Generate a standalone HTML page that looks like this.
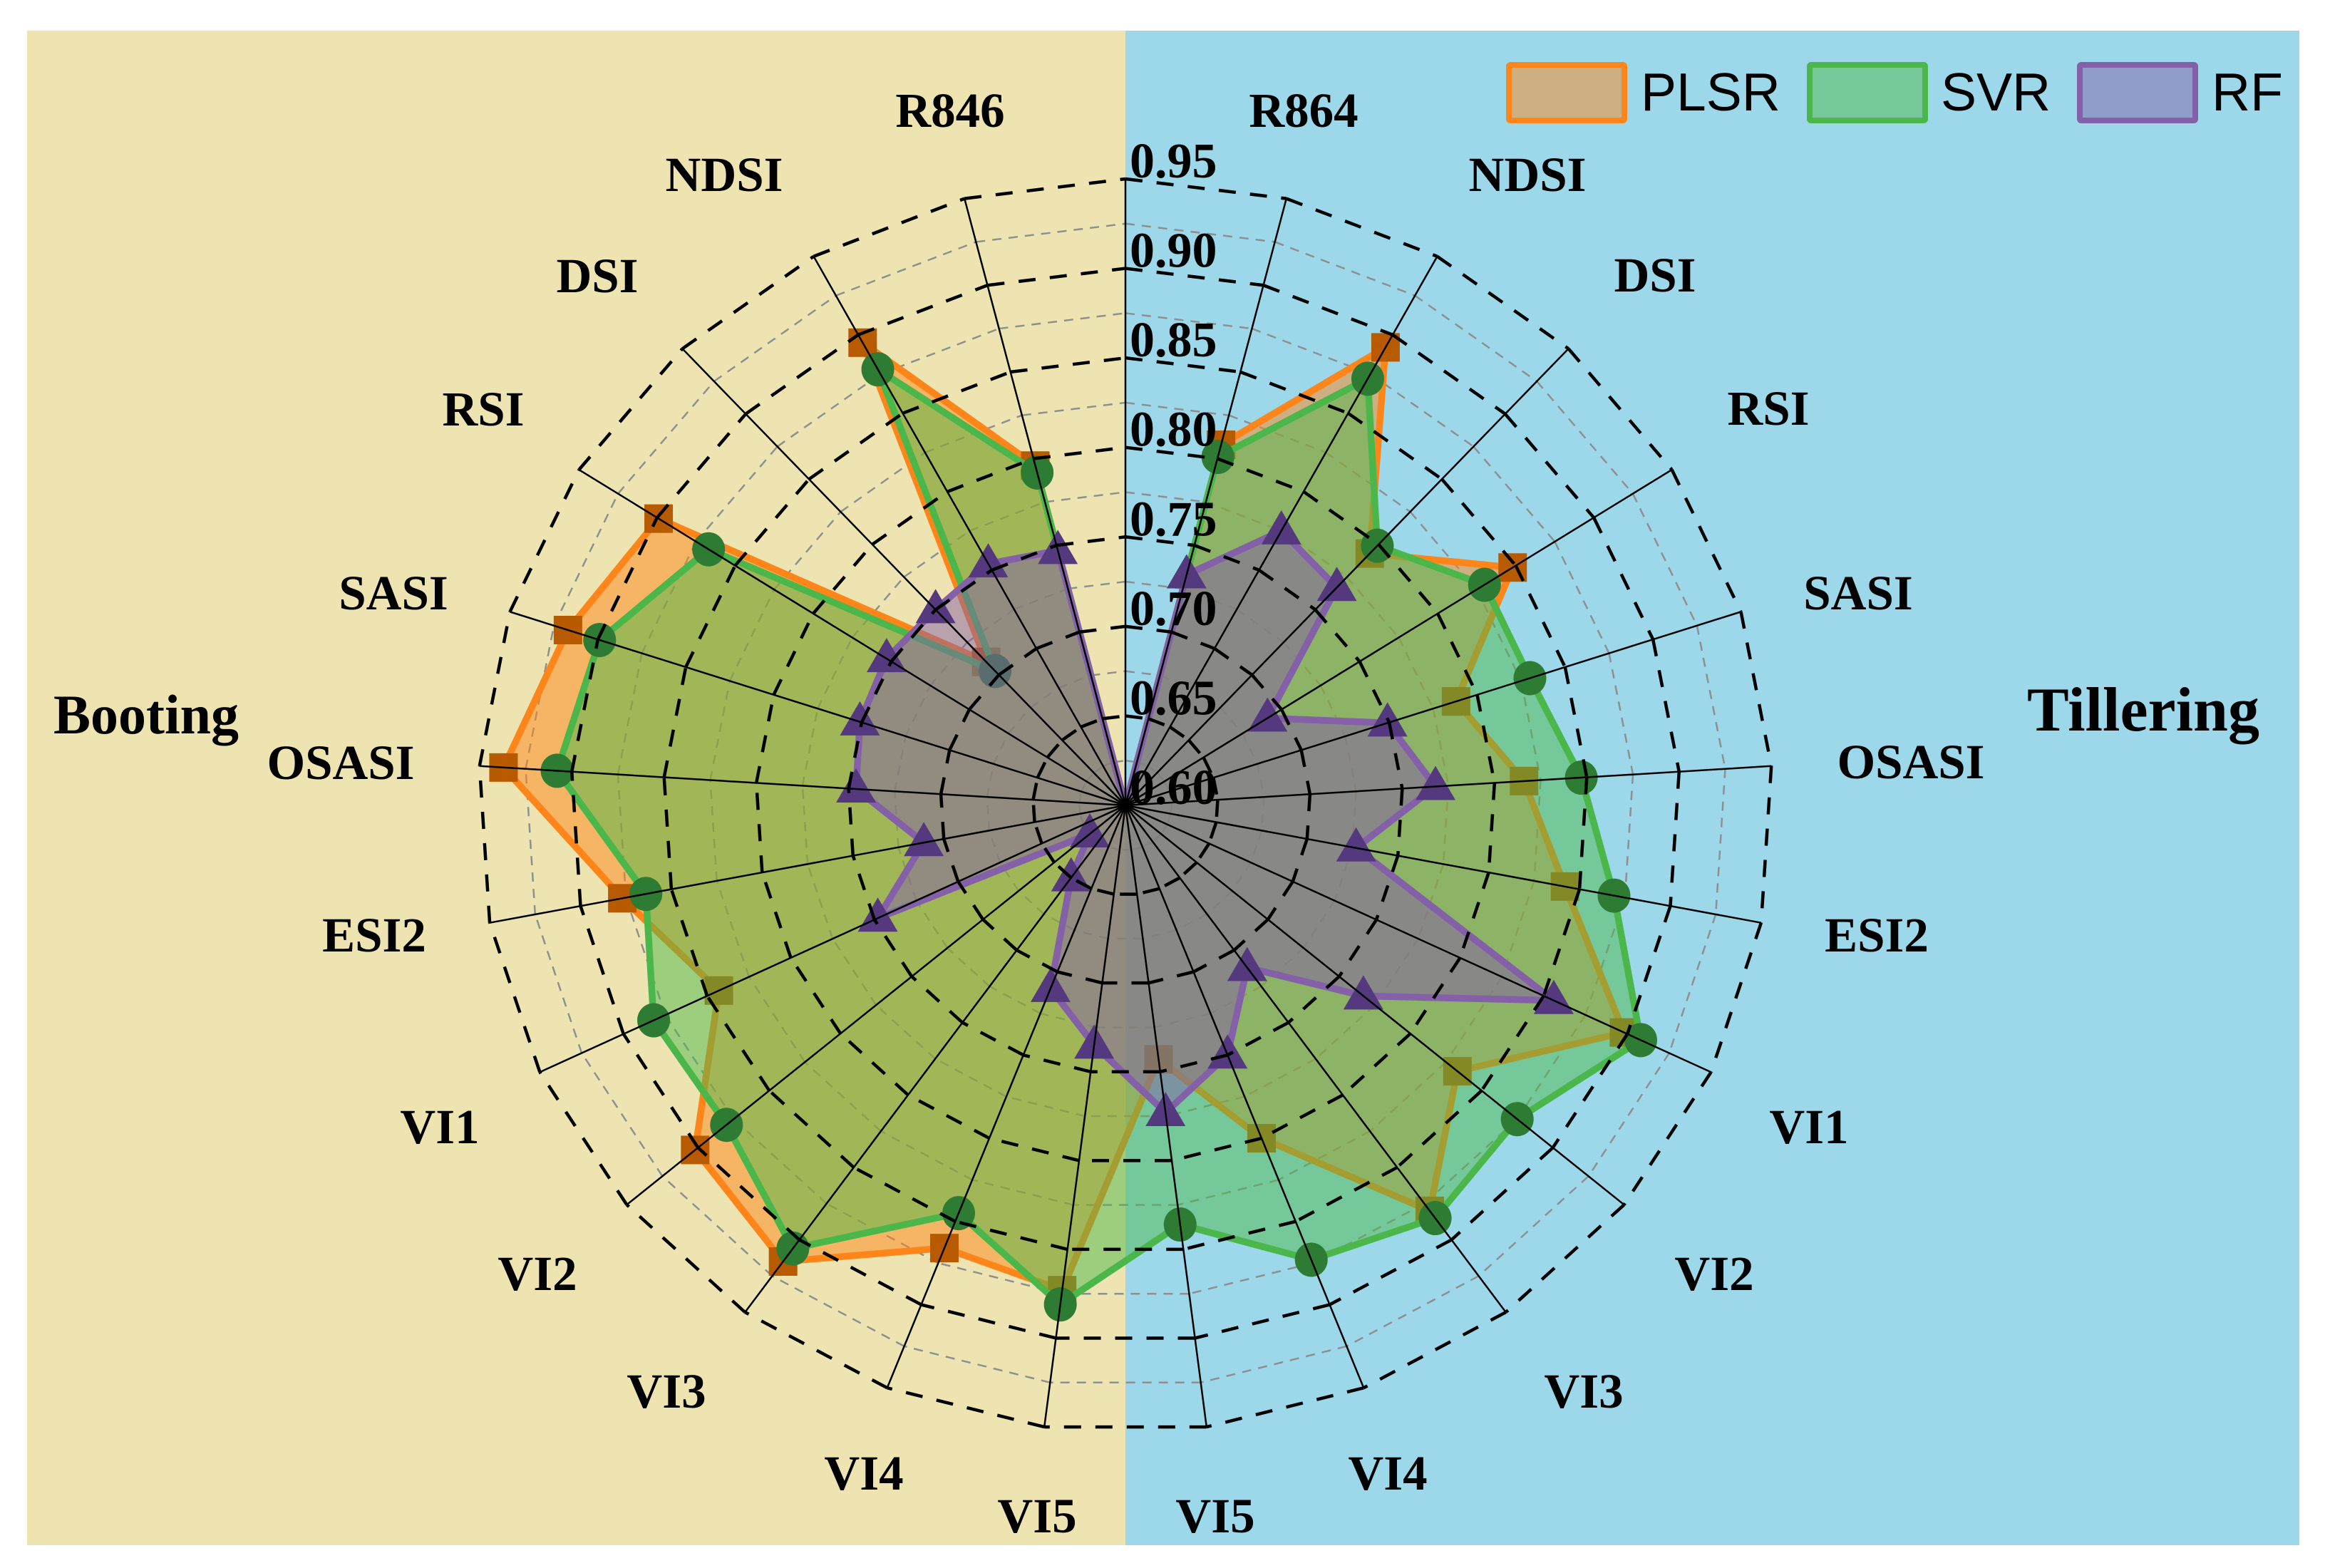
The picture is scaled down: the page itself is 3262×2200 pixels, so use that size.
<!DOCTYPE html>
<html lang="en">
<head>
<meta charset="utf-8">
<title>Radar chart: Booting and Tillering</title>
<style>
html,body{margin:0;padding:0;background:#fff;}
svg{display:block;}
.cat{font-family:"Liberation Serif",serif;font-weight:bold;font-size:69px;fill:#000;text-anchor:middle;}
.tick{font-family:"Liberation Serif",serif;font-weight:bold;font-size:70px;fill:#000;}
.leg{font-family:"Liberation Sans",sans-serif;font-size:75px;fill:#000;}
</style>
</head>
<body>
<svg id="chart" xmlns="http://www.w3.org/2000/svg" width="3262" height="2200" viewBox="0 0 3262 2200">
  <rect x="0" y="0" width="3262" height="2200" fill="#ffffff"/>
  <rect x="38" y="43" width="1541" height="2125" fill="#EEE4B1"/>
  <rect x="1579" y="43" width="1647" height="2125" fill="#9CD8EA"/>
  <g id="minor-grid"></g>
  <g id="series"></g>
  <g id="major-grid"></g>
  <g id="spokes"></g>
  <g id="ticks"></g>

  <g>
    <text class="cat" x="1333" y="178">R846</text>
    <text class="cat" x="1016" y="268">NDSI</text>
    <text class="cat" x="838" y="410">DSI</text>
    <text class="cat" x="678" y="597">RSI</text>
    <text class="cat" x="552" y="855">SASI</text>
    <text class="cat" x="478" y="1093">OSASI</text>
    <text class="cat" x="525" y="1335">ESI2</text>
    <text class="cat" x="617" y="1604">VI1</text>
    <text class="cat" x="754" y="1810">VI2</text>
    <text class="cat" x="935" y="1975">VI3</text>
    <text class="cat" x="1212" y="2090">VI4</text>
    <text class="cat" x="1455" y="2150">VI5</text>
  </g>
  <g>
    <text class="cat" x="1829" y="178">R864</text>
    <text class="cat" x="2143" y="268">NDSI</text>
    <text class="cat" x="2322" y="409">DSI</text>
    <text class="cat" x="2481" y="596">RSI</text>
    <text class="cat" x="2607" y="855">SASI</text>
    <text class="cat" x="2681" y="1092">OSASI</text>
    <text class="cat" x="2633" y="1335">ESI2</text>
    <text class="cat" x="2538" y="1604">VI1</text>
    <text class="cat" x="2405" y="1810">VI2</text>
    <text class="cat" x="2222" y="1975">VI3</text>
    <text class="cat" x="1947" y="2090">VI4</text>
    <text class="cat" x="1705" y="2150">VI5</text>
  </g>

  <text class="cat" x="205" y="1029" style="font-size:78px">Booting</text>
  <text class="cat" x="3007" y="1025" style="font-size:88px">Tillering</text>

  <g>
    <g>
      <rect x="2117" y="91" width="162" height="78" rx="2" fill="#FD851A" fill-opacity="0.5" stroke="#FD851A" stroke-width="8"/>
      <text class="leg" x="2302" y="155">PLSR</text>
    </g>
    <g>
      <rect x="2539" y="91" width="162" height="78" rx="2" fill="#4BB74A" fill-opacity="0.5" stroke="#4BB74A" stroke-width="8"/>
      <text class="leg" x="2723" y="155">SVR</text>
    </g>
    <g>
      <rect x="2918" y="91" width="162" height="78" rx="2" fill="#8460A8" fill-opacity="0.5" stroke="#8460A8" stroke-width="8"/>
      <text class="leg" x="3103" y="155">RF</text>
    </g>
  </g>
</svg>

<script>
var tilleringCategories = ["R864","NDSI","DSI","RSI","SASI","OSASI","ESI2","VI1","VI2","VI3","VI4","VI5"];
var bootingCategories = ["R846","NDSI","DSI","RSI","SASI","OSASI","ESI2","VI1","VI2","VI3","VI4","VI5"];

var plsrTillering = [0.808,0.892,0.793,0.848,0.788,0.816,0.842,0.898,0.833,0.880,0.800,0.743];
var svrTillering = [0.801,0.872,0.799,0.830,0.830,0.847,0.869,0.908,0.875,0.885,0.873,0.836];
var rfTillering = [0.733,0.775,0.767,0.691,0.749,0.768,0.727,0.856,0.767,0.712,0.750,0.773];

var plsrBooting = [0.796,0.895,0.710,0.899,0.917,0.937,0.877,0.843,0.902,0.915,0.866,0.873];
var svrBooting = [0.792,0.878,0.703,0.867,0.899,0.908,0.864,0.882,0.880,0.906,0.845,0.881];
var rfBooting = [0.747,0.754,0.750,0.753,0.751,0.746,0.711,0.748,0.625,0.650,0.710,0.735];

var majorTickLabels = ["0.60","0.65","0.70","0.75","0.80","0.85","0.90","0.95"];
var minorTickValues = [0.625,0.675,0.725,0.775,0.825,0.875,0.925];

var NS = "http://www.w3.org/2000/svg";
var CX = 1579, CY = 1130, RX = 908, RY = 879;
var RMIN = 0.60, RMAX = 0.95, SPOKES = 25;

function norm(v){ return (v - RMIN) / (RMAX - RMIN); }
function angleOf(i){ return i * 2 * Math.PI / SPOKES; }
function xPos(v, i){ return CX + RX * norm(v) * Math.sin(angleOf(i)); }
function yPos(v, i){ return CY - RY * norm(v) * Math.cos(angleOf(i)); }
function tilleringSpoke(k){ return k + 1; }
function bootingSpoke(k){ return SPOKES - 1 - k; }
function make(tag, parent){
  var el = document.createElementNS(NS, tag);
  parent.appendChild(el);
  return el;
}

function ringEdges(v, parent, stroke, width, dash, name){
  for (var i = 0; i < SPOKES; i++) {
    var edge = make("line", parent);
    
    
    edge.setAttribute("x1", xPos(v, i));
    edge.setAttribute("y1", yPos(v, i));
    edge.setAttribute("x2", xPos(v, i + 1));
    edge.setAttribute("y2", yPos(v, i + 1));
    edge.setAttribute("stroke", stroke);
    edge.setAttribute("stroke-width", width);
    edge.setAttribute("stroke-dasharray", dash);
  }
}

var minorGroup = document.getElementById("minor-grid");
minorTickValues.forEach(function(v){
  ringEdges(v, minorGroup, "#8f8f8f", 2.5, "13 10", "minor-grid-edge");
});

var majorGroup = document.getElementById("major-grid");
majorTickLabels.forEach(function(label){
  var v = parseFloat(label);
  if (v > RMIN) {
    ringEdges(v, majorGroup, "#000000", 4.5, "24 20", "major-grid-edge");
  }
});

var spokeGroup = document.getElementById("spokes");
for (var s = 0; s < SPOKES; s++) {
  var spoke = make("line", spokeGroup);
  
  
  spoke.setAttribute("x1", CX);
  spoke.setAttribute("y1", CY);
  spoke.setAttribute("x2", xPos(RMAX, s));
  spoke.setAttribute("y2", yPos(RMAX, s));
  spoke.setAttribute("stroke", "#000000");
  spoke.setAttribute("stroke-width", 2.5);
}

var tickGroup = document.getElementById("ticks");
majorTickLabels.forEach(function(label){
  var t = make("text", tickGroup);
  
  
  t.setAttribute("class", "tick");
  t.setAttribute("x", CX + 6);
  t.setAttribute("y", yPos(parseFloat(label), 0) - 2);
  t.textContent = label;
});

function drawMarker(kind, x, y, color, parent){
  var m;
  if (kind === "square") {
    m = make("rect", parent);
    m.setAttribute("x", x - 20);
    m.setAttribute("y", y - 20);
    m.setAttribute("width", 40);
    m.setAttribute("height", 40);
  } else if (kind === "circle") {
    m = make("ellipse", parent);
    m.setAttribute("cx", x);
    m.setAttribute("cy", y);
    m.setAttribute("rx", 23);
    m.setAttribute("ry", 24);
  } else {
    m = make("polygon", parent);
    m.setAttribute("points", x + "," + (y - 29) + " " + (x + 28) + "," + (y + 19) + " " + (x - 28) + "," + (y + 19));
  }
  m.setAttribute("fill", color);
  return m;
}

function drawSeries(name, tillering, booting, lineColor, markerColor, kind){
  var group = make("g", document.getElementById("series"));
  
  

  var pts = [CX + "," + CY];
  tillering.forEach(function(v, k){
    pts.push(xPos(v, tilleringSpoke(k)) + "," + yPos(v, tilleringSpoke(k)));
  });
  for (var k = booting.length - 1; k >= 0; k--) {
    pts.push(xPos(booting[k], bootingSpoke(k)) + "," + yPos(booting[k], bootingSpoke(k)));
  }
  var poly = make("polygon", group);
  
  
  poly.setAttribute("points", pts.join(" "));
  poly.setAttribute("fill", lineColor);
  poly.setAttribute("fill-opacity", "0.5");
  poly.setAttribute("stroke", lineColor);
  poly.setAttribute("stroke-width", 9.5);
  poly.setAttribute("stroke-linejoin", "round");

  tillering.forEach(function(v, k){
    var m = drawMarker(kind, xPos(v, tilleringSpoke(k)), yPos(v, tilleringSpoke(k)), markerColor, group);
    
    
  });
  booting.forEach(function(v, k){
    var m = drawMarker(kind, xPos(v, bootingSpoke(k)), yPos(v, bootingSpoke(k)), markerColor, group);
    
    
  });
}

drawSeries("plsr", plsrTillering, plsrBooting, "#FD851A", "#B85A00", "square");
drawSeries("svr", svrTillering, svrBooting, "#4BB74A", "#2E7B34", "circle");
drawSeries("rf", rfTillering, rfBooting, "#8460A8", "#55397F", "triangle");
</script>
</body>
</html>
